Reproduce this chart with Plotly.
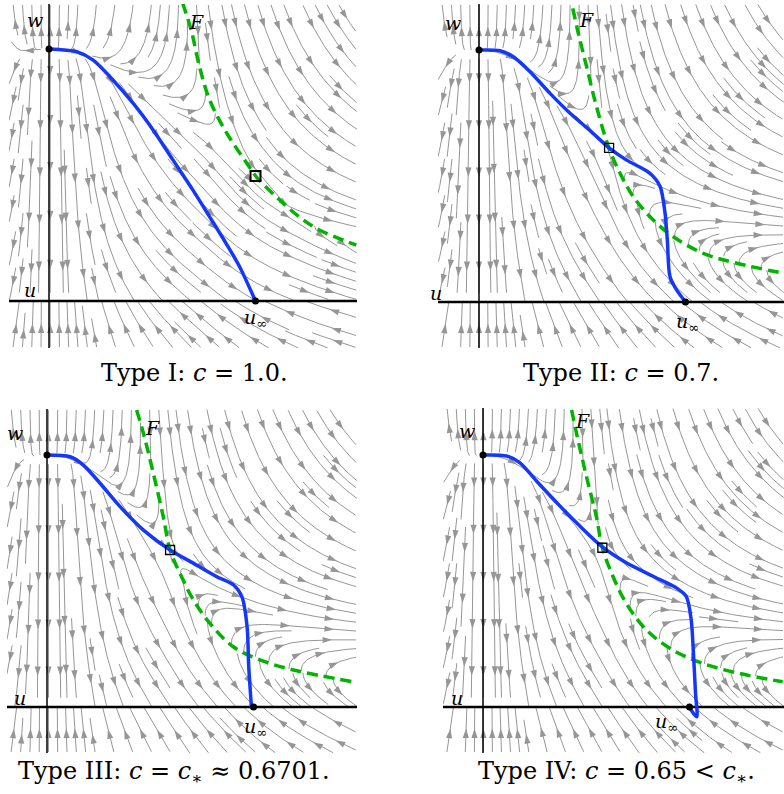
import math
import numpy as np
import plotly.graph_objects as go

W_PX, H_PX = 784, 794

# ---------------- data ----------------
NB = "\u00a0"
titles = ["Type I: <i>c</i>" + NB + "=" + NB + "1.0.",
          "Type II: <i>c</i>" + NB + "=" + NB + "0.7.",
          "Type III: <i>c</i>" + NB + "=" + NB + "<i>c</i><sub>∗</sub>" + NB + "≈" + NB + "0.6701.",
          "Type IV: <i>c</i>" + NB + "=" + NB + "0.65" + NB + "&lt;" + NB + "<i>c</i><sub>∗</sub>."]

w0 = 1.0        # left equilibrium (0, w0)
u_inf = 1.0     # right end point (u_inf, 0)

# singular curve F for each panel
F1_u = [0.647, 0.691, 0.729, 0.778, 0.860, 0.957, 1.005, 1.101, 1.213, 1.309, 1.488]
F1_w = [1.183, 1.067, 0.929, 0.798, 0.667, 0.548, 0.492, 0.413, 0.333, 0.282, 0.222]
F2_u = [0.454, 0.481, 0.521, 0.569, 0.629, 0.683, 0.747, 0.844, 0.941, 1.086, 1.248, 1.474]
F2_w = [1.165, 1.066, 0.934, 0.775, 0.612, 0.511, 0.418, 0.325, 0.259, 0.193, 0.154, 0.114]
F3_u = [0.434, 0.467, 0.515, 0.563, 0.596, 0.644, 0.709, 0.789, 0.902, 1.031, 1.193, 1.484]
F3_w = [1.179, 1.086, 0.927, 0.755, 0.623, 0.530, 0.425, 0.332, 0.239, 0.187, 0.147, 0.100]
F4_u = [0.429, 0.453, 0.501, 0.549, 0.578, 0.630, 0.694, 0.791, 0.919, 1.064, 1.242, 1.451]
F4_w = [1.179, 1.086, 0.914, 0.755, 0.632, 0.517, 0.411, 0.306, 0.226, 0.173, 0.133, 0.100]

# blue connecting orbit for each panel
B1_u = [0.0, 0.134, 0.214, 0.295, 0.407, 0.504, 0.600, 0.697, 0.778, 0.858, 0.923, 1.0]
B1_w = [1.0, 0.989, 0.956, 0.890, 0.785, 0.679, 0.560, 0.440, 0.334, 0.228, 0.136, 0.0]
B2_u = [0.0, 0.102, 0.166, 0.247, 0.344, 0.441, 0.538, 0.630, 0.715, 0.828, 0.877, 0.901, 0.912, 0.925, 0.957, 1.0]
B2_w = [1.0, 0.997, 0.973, 0.914, 0.828, 0.749, 0.680, 0.612, 0.563, 0.511, 0.458, 0.352, 0.246, 0.100, 0.048, 0.0]
B3_u = [0.0, 0.112, 0.176, 0.257, 0.354, 0.467, 0.596, 0.710, 0.823, 0.904, 0.944, 0.969, 0.977, 0.990]
B3_w = [1.0, 0.993, 0.960, 0.888, 0.795, 0.702, 0.623, 0.570, 0.517, 0.484, 0.437, 0.318, 0.159, 0.0]
B4_u = [0.0, 0.114, 0.179, 0.259, 0.372, 0.469, 0.578, 0.694, 0.823, 0.936, 0.984, 1.008, 1.019, 1.029, 1.035, 1.008, 1.0]
B4_w = [1.0, 0.996, 0.969, 0.897, 0.798, 0.718, 0.635, 0.572, 0.519, 0.473, 0.439, 0.347, 0.214, 0.055, -0.039, -0.012, 0.0]

# pinch point (square) on F
S_u = [1.0, 0.630, 0.596, 0.578]
S_w = [0.496, 0.612, 0.623, 0.632]

# label positions (u, w)
lab_w = [(-0.07, 1.115), (-0.126, 1.107), (-0.155, 1.087), (-0.077, 1.095)]
lab_u = [(-0.09, 0.044), (-0.21, 0.036), (-0.13, 0.036), (-0.126, 0.036)]
lab_F = [(0.715, 1.107), (0.52, 1.12), (0.51, 1.107), (0.483, 1.135)]
lab_uinf = [(1.0, -0.07), (1.01, -0.08), (1.01, -0.08), (0.89, -0.06)]

F_u = [F1_u, F2_u, F3_u, F4_u]
F_w = [F1_w, F2_w, F3_w, F4_w]
B_u = [B1_u, B2_u, B3_u, B4_u]
B_w = [B1_w, B2_w, B3_w, B4_w]

# ---------------- layout (pixels) ----------------
boxes = [(9, 4, 357, 348), (438, 4, 784, 348), (7, 409, 357, 753), (443, 408, 784, 753)]
origins = [(49, 301), (479, 302), (47, 707), (483, 707)]
SX, SY = 206.5, 252.0
title_pos = [(194, 373), (621, 373), (174, 772), (616, 772)]

GRAY = "rgb(150,150,150)"
BLUE = "rgb(20,55,250)"
GREEN = "rgb(0,180,0)"
SERIF = "DejaVu Serif"


def field(U, Wg, Fu, Fw, uS, wS, a=2.2):
    Fu = np.asarray(Fu); Fw = np.asarray(Fw)
    f = np.interp(U, Fu, Fw)
    s0 = (Fw[1] - Fw[0]) / (Fu[1] - Fu[0])
    s1 = (Fw[-1] - Fw[-2]) / (Fu[-1] - Fu[-2])
    f = np.where(U < Fu[0], Fw[0] + s0 * (U - Fu[0]), f)
    f = np.where(U > Fu[-1], Fw[-1] + s1 * (U - Fu[-1]), f)
    G = Wg - f
    sl = 2 * (w0 - wS) / uS
    L = 0.3
    w1 = np.where(U < uS, wS + (w0 - wS) * (1 - (U / uS) ** 2),
                  wS - sl * L * (1 - np.exp(-(U - uS) / L)))
    p = a * U * np.abs(U) / (1 + 4 * Wg ** 2)
    P = p * G
    Q = w1 - Wg
    sg = np.sign(G * Wg)
    return sg * P, sg * Q


def spiral(n):
    pts = []
    x0, y0, x1, y1 = 0, 0, n - 1, n - 1
    while x0 <= x1 and y0 <= y1:
        for x in range(x0, x1 + 1): pts.append((x, y0))
        for y in range(y0 + 1, y1 + 1): pts.append((x1, y))
        if y1 > y0:
            for x in range(x1 - 1, x0 - 1, -1): pts.append((x, y1))
        if x1 > x0:
            for y in range(y1 - 1, y0, -1): pts.append((x0, y))
        x0 += 1; y0 += 1; x1 -= 1; y1 -= 1
    return pts


def streamlines(k, n=38, res=8, h=0.2):
    bx0, by0, bx1, by1 = boxes[k]
    ox, oy = origins[k]
    uL, uR = (bx0 - ox) / SX, (bx1 - ox) / SX
    wB, wT = (oy - by1) / SY, (oy - by0) / SY
    cw, ch = (bx1 - bx0) / n, (by1 - by0) / n
    g = np.linspace(0, n, n * res + 1)
    GX, GY = np.meshgrid(g, g)
    U = uL + GX / n * (uR - uL)
    Wg = wB + GY / n * (wT - wB)
    P, Q = field(U, Wg, F_u[k], F_w[k], S_u[k], S_w[k])
    DX = P * SX / cw
    DY = Q * SY / ch
    DXl = DX.tolist(); DYl = DY.tolist()
    N = n * res

    def dirn(x, y):
        fx, fy = x * res, y * res
        i, j = int(fx), int(fy)
        i = min(max(i, 0), N - 1); j = min(max(j, 0), N - 1)
        tx, ty = fx - i, fy - j
        a00 = (1 - tx) * (1 - ty); a10 = tx * (1 - ty); a01 = (1 - tx) * ty; a11 = tx * ty
        dx = DXl[j][i] * a00 + DXl[j][i + 1] * a10 + DXl[j + 1][i] * a01 + DXl[j + 1][i + 1] * a11
        dy = DYl[j][i] * a00 + DYl[j][i + 1] * a10 + DYl[j + 1][i] * a01 + DYl[j + 1][i + 1] * a11
        m = math.hypot(dx, dy)
        if m < 1e-3:
            return None
        return dx / m, dy / m

    def out(x, y):
        return x < 0 or y < 0 or x >= n or y >= n

    mask = [[0] * n for _ in range(n)]

    def integrate(x, y, sgn, own):
        pts = [(x, y)]
        cx, cy = int(x), int(y)
        L = 0.0
        while L < 4 * n:
            d = dirn(x, y)
            if d is None: break
            dx, dy = d[0] * sgn, d[1] * sgn
            xm, ym = x + 0.5 * h * dx, y + 0.5 * h * dy
            if out(xm, ym): break
            d2 = dirn(xm, ym)
            if d2 is None: break
            ex, ey = d2[0] * sgn, d2[1] * sgn
            if dx * ex + dy * ey < 0.5: break
            x, y = x + h * ex, y + h * ey
            if out(x, y): break
            ncx, ncy = int(x), int(y)
            if (ncx, ncy) != (cx, cy):
                if mask[ncy][ncx]: break
                mask[ncy][ncx] = 1
                own.append((ncx, ncy))
                cx, cy = ncx, ncy
            pts.append((x, y))
            L += h
        return pts, L

    lines = []
    for (i, j) in spiral(n):
        if mask[j][i]:
            continue
        mask[j][i] = 1
        own = [(i, j)]
        x0, y0 = i + 0.5, j + 0.5
        bpts, Lb = integrate(x0, y0, -1, own)
        fpts, Lf = integrate(x0, y0, +1, own)
        if Lb + Lf < 3.0:
            for (a, b) in own:
                mask[b][a] = 0
            continue
        lines.append(bpts[::-1] + fpts[1:])

    def to_data(x, y):
        return uL + x / n * (uR - uL), wB + y / n * (wT - wB)

    lx, ly = [], []
    ax_, ay_, ang = [], [], []
    for line in lines:
        for (x, y) in line:
            u, w = to_data(x, y)
            lx.append(u); ly.append(w)
        lx.append(None); ly.append(None)
        px = [x * cw for (x, y) in line]
        py = [y * ch for (x, y) in line]
        s = [0.0]
        for q in range(1, len(px)):
            s.append(s[-1] + math.hypot(px[q] - px[q - 1], py[q] - py[q - 1]))
        Lp = s[-1]
        if Lp < 8:
            continue
        na = max(1, int(Lp / 46 + 0.5))
        for kk in range(na):
            t = (kk + 0.5) / na * Lp
            q = 1
            while q < len(s) - 1 and s[q] < t:
                q += 1
            x, y = line[q]
            dxp = px[q] - px[q - 1]; dyp = py[q] - py[q - 1]
            u, w = to_data(x, y)
            ax_.append(u); ay_.append(w)
            ang.append(math.degrees(math.atan2(dxp, dyp)))
    return (uL, uR, wB, wT), lx, ly, ax_, ay_, ang


fig = go.Figure()
annotations = []
for k in range(4):
    (uL, uR, wB, wT), lx, ly, ax_, ay_, ang = streamlines(k)
    xa = "x" if k == 0 else f"x{k+1}"
    ya = "y" if k == 0 else f"y{k+1}"
    bx0, by0, bx1, by1 = boxes[k]
    ox, oy = origins[k]
    lay_x = "xaxis" if k == 0 else f"xaxis{k+1}"
    lay_y = "yaxis" if k == 0 else f"yaxis{k+1}"
    fig.layout[lay_x] = dict(domain=[bx0 / W_PX, bx1 / W_PX], range=[uL, uR], visible=False,
                             anchor=ya, fixedrange=True)
    fig.layout[lay_y] = dict(domain=[1 - by1 / H_PX, 1 - by0 / H_PX], range=[wB, wT], visible=False,
                             anchor=xa, fixedrange=True)
    fig.add_trace(go.Scatter(x=lx, y=ly, mode="lines", line=dict(color=GRAY, width=1),
                             xaxis=xa, yaxis=ya, hoverinfo="skip", showlegend=False))
    fig.add_trace(go.Scatter(x=ax_, y=ay_, mode="markers",
                             marker=dict(symbol="arrow", size=10, angle=ang, color=GRAY,
                                         line=dict(width=0)),
                             xaxis=xa, yaxis=ya, hoverinfo="skip", showlegend=False))
    fig.add_trace(go.Scatter(x=[uL, uR], y=[0, 0], mode="lines", line=dict(color="black", width=2.5),
                             xaxis=xa, yaxis=ya, hoverinfo="skip", showlegend=False))
    fig.add_trace(go.Scatter(x=[0, 0], y=[wB, wT], mode="lines", line=dict(color="black", width=1.5),
                             xaxis=xa, yaxis=ya, hoverinfo="skip", showlegend=False))
    fig.add_trace(go.Scatter(x=F_u[k], y=F_w[k], mode="lines",
                             line=dict(color=GREEN, width=3.5, dash="11px,6px", shape="spline"),
                             xaxis=xa, yaxis=ya, hoverinfo="skip", showlegend=False))
    fig.add_trace(go.Scatter(x=B_u[k], y=B_w[k], mode="lines",
                             line=dict(color=BLUE, width=3.5, shape="spline", smoothing=0.8),
                             xaxis=xa, yaxis=ya, hoverinfo="skip", showlegend=False))
    fig.add_trace(go.Scatter(x=[0, u_inf], y=[w0, 0], mode="markers",
                             marker=dict(color="black", size=7),
                             xaxis=xa, yaxis=ya, hoverinfo="skip", showlegend=False))
    fig.add_trace(go.Scatter(x=[S_u[k]], y=[S_w[k]], mode="markers",
                             marker=dict(symbol="square-open", color="black", size=10 if k == 0 else 9,
                                         line=dict(width=2 if k == 0 else 1.3)),
                             xaxis=xa, yaxis=ya, hoverinfo="skip", showlegend=False))
    for (txt, pos) in [("w", lab_w[k]), ("u", lab_u[k]), ("F", lab_F[k]),
                       ("u<sub>∞</sub>", lab_uinf[k])]:
        px_ = ox + pos[0] * SX
        py_ = oy - pos[1] * SY
        annotations.append(dict(x=px_ / W_PX, y=1 - py_ / H_PX, xref="paper", yref="paper",
                                text=txt, showarrow=False, xanchor="center", yanchor="middle",
                                font=dict(family=SERIF, size=19, color="black", style="italic")))
    tx, ty = title_pos[k]
    annotations.append(dict(x=tx / W_PX, y=1 - ty / H_PX, xref="paper", yref="paper", text=titles[k],
                            showarrow=False, xanchor="center", yanchor="middle",
                            font=dict(family=SERIF, size=24, color="black")))

fig.update_layout(width=W_PX, height=H_PX, margin=dict(l=0, r=0, t=0, b=0),
                  paper_bgcolor="white", plot_bgcolor="white", annotations=annotations,
                  showlegend=False)
fig.write_html("out.html")
